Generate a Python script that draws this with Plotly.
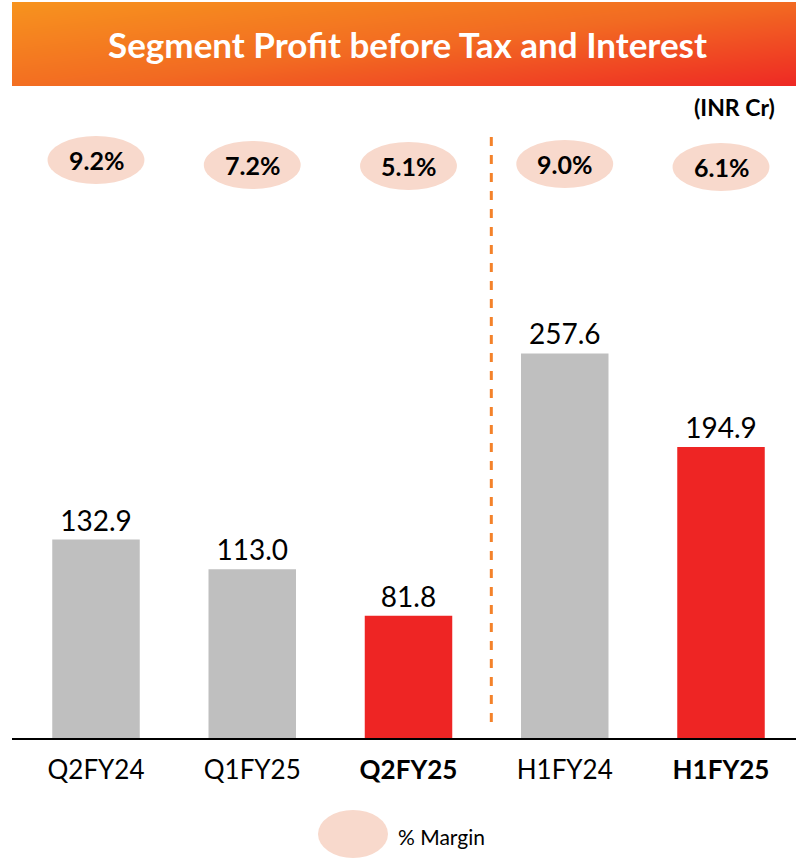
import plotly.graph_objects as go

categories = ["Q2FY24", "Q1FY25", "Q2FY25", "H1FY24", "H1FY25"]
tick_labels = ["Q2FY24", "Q1FY25", "<b>Q2FY25</b>", "H1FY24", "<b>H1FY25</b>"]
profit_values = [132.9, 113.0, 81.8, 257.6, 194.9]
margin_labels = ["9.2%", "7.2%", "5.1%", "9.0%", "6.1%"]
bar_colors = ["#BFBFBF", "#BFBFBF", "#EE2524", "#BFBFBF", "#EE2524"]

title_text = "Segment Profit before Tax and Interest"
unit_text = "(INR Cr)"
legend_text = "% Margin"

W, H = 796, 865
L, R, T, B = 12, 0, 2, 127
plot_top_px = 90           # top of bar area in pixels
axis_px = H - B            # 738
px_per_unit = 1.493
yr_top = (axis_px - plot_top_px) / px_per_unit
plot_h = axis_px - T
main_dom_top = (axis_px - plot_top_px) / plot_h
banner_dom = [(axis_px - 86) / plot_h, 1.0]

def py2data(py):
    return (axis_px - py) / px_per_unit

def py2paper(py):
    return (axis_px - py) / plot_h

fig = go.Figure()

fig.add_trace(go.Bar(
    x=list(range(len(categories))), y=profit_values,
    marker=dict(color=bar_colors, line=dict(width=0)),
    width=0.56,
    text=[f"{v:.1f}" for v in profit_values],
    textposition="outside",
    textfont=dict(family="Lato", size=28, color="#000000"),
    cliponaxis=False,
    hoverinfo="skip",
    showlegend=False,
))

# banner gradient
fig.add_trace(go.Heatmap(
    x=[0, 1], y=[0, 1],
    z=[[0.45, 1.0], [0.0, 0.5]],
    zmin=0, zmax=1,
    colorscale=[[0, "#F7931E"], [0.5, "#F26A22"], [1, "#EE2824"]],
    zsmooth="best", showscale=False, hoverinfo="skip",
    xaxis="x2", yaxis="y2",
))

shapes = []
annotations = []

# margin ellipses
ell_centers_px = [160, 165, 166, 164, 167]
for i, lab in enumerate(margin_labels):
    cy = ell_centers_px[i]
    shapes.append(dict(
        type="circle", xref="x", yref="y",
        x0=i - 0.31, x1=i + 0.31,
        y0=py2data(cy + 24), y1=py2data(cy - 24),
        fillcolor="#F8D9CC", line=dict(width=0), layer="below",
    ))
    annotations.append(dict(
        x=i, y=py2data(cy), xref="x", yref="y", text=f"<b>{lab}</b>",
        showarrow=False, font=dict(family="Lato", size=25, color="#000000"),
    ))

# dashed divider
shapes.append(dict(
    type="line", xref="x", yref="y", x0=2.53, x1=2.53,
    y0=py2data(722), y1=py2data(133),
    line=dict(color="#F4822A", width=3, dash="dash"),
))

# legend ellipse
shapes.append(dict(
    type="circle", xref="paper", yref="paper",
    x0=(318 - L) / (W - L), x1=(388 - L) / (W - L),
    y0=py2paper(858), y1=py2paper(810),
    fillcolor="#F8D9CC", line=dict(width=0),
))
annotations.append(dict(
    x=(396 - L) / (W - L), y=py2paper(836), xref="paper", yref="paper",
    xanchor="left", yanchor="middle", text=legend_text, showarrow=False,
    font=dict(family="Lato", size=21, color="#000000"),
))

# title
annotations.append(dict(
    x=(408 - L) / (W - L), y=0.5, xref="x2 domain", yref="y2 domain", text=f"<b>{title_text}</b>",
    showarrow=False, font=dict(family="Lato", size=35, color="#FFFFFF"),
))

# unit label
annotations.append(dict(
    x=(777 - L) / (W - L), y=py2paper(107), xref="paper", yref="paper",
    xanchor="right", yanchor="middle", text=f"<b>{unit_text}</b>", showarrow=False,
    font=dict(family="Lato", size=23, color="#000000"),
))

fig.update_layout(
    width=W, height=H,
    margin=dict(l=L, r=R, t=T, b=B),
    paper_bgcolor="#FFFFFF", plot_bgcolor="rgba(0,0,0,0)",
    xaxis=dict(
        range=[-0.5376, 4.48], tickvals=list(range(len(categories))), ticktext=tick_labels,
        showgrid=False, zeroline=False, showline=True, linecolor="#000000", linewidth=2,
        ticks="", tickfont=dict(family="Lato", size=26, color="#000000"), ticklabelstandoff=8,
    ),
    yaxis=dict(range=[0, yr_top], domain=[0, main_dom_top], visible=False, showgrid=False),
    xaxis2=dict(domain=[0, 1], range=[0, 1], visible=False, anchor="y2"),
    yaxis2=dict(domain=banner_dom, range=[0, 1], visible=False, anchor="x2"),
    shapes=shapes,
    annotations=annotations,
    showlegend=False,
)

fig.write_html("out.html", config={"displayModeBar": False},
               post_script="document.body.style.margin='0';")
